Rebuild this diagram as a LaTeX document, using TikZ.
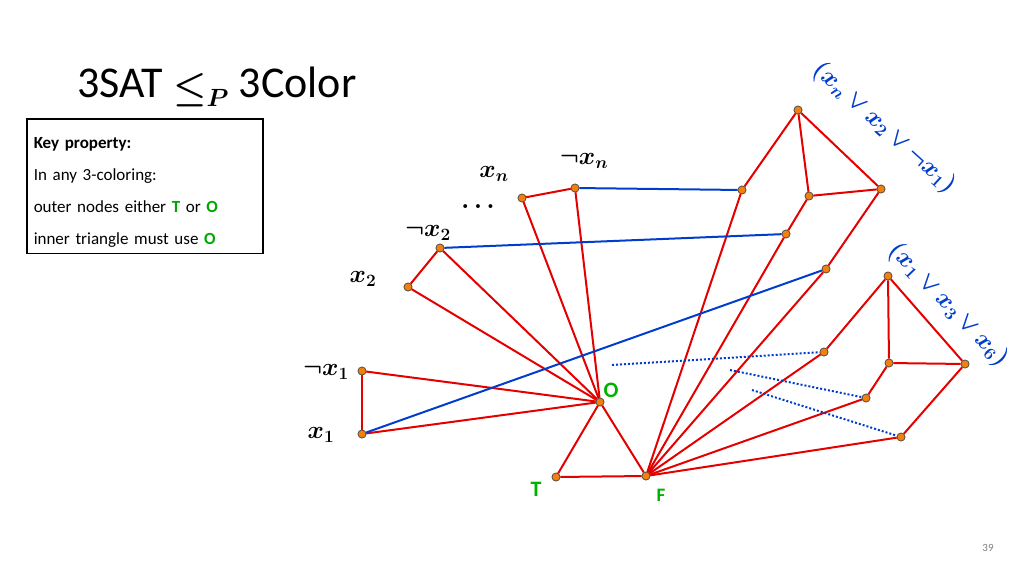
\documentclass[tikz,border=0pt]{standalone}
\usepackage{amsmath,bm,graphicx}
\usepackage{fontspec}
\setmainfont{Carlito}
\begin{document}
\begin{tikzpicture}[x=1pt,y=-1pt,
  v/.style={circle,draw=black!70,fill=orange!80!brown,inner sep=0pt,minimum size=8pt,line width=0.6pt},
  re/.style={red!90!black,line width=2pt},
  be/.style={blue!70!cyan!80!black,line width=2pt},
  de/.style={blue!70!cyan!80!black,line width=2pt,dotted},
  ml/.style={font=\fontsize{24}{24}\selectfont},
  gl/.style={text=green!70!black,font=\fontsize{22}{22}\selectfont\bfseries},
  cl/.style={text=blue!70!cyan!80!black,font=\fontsize{23}{23}\selectfont}]
\useasboundingbox (0,0) rectangle (1024,576);
\node[anchor=west,font=\fontsize{44}{44}\selectfont] (title) at (74,87) {3SAT \raisebox{-2pt}{\scalebox{1.5}{$\bm{\le}$}}$\bm{_P}$ 3Color};
\node[draw,line width=1.5pt,anchor=north west,minimum width=236pt,minimum height=130pt,align=left,inner sep=6pt,text width=222pt,font=\fontsize{17}{32}\selectfont] (key) at (26,118)
 {\rule{0pt}{24pt}\textbf{Key property:}\\In any 3-coloring:\\outer nodes either \textcolor{green!65!black}{\textbf{T}} or \textcolor{green!65!black}{\textbf{O}}\\inner triangle must use \textcolor{green!65!black}{\textbf{O}}};
\node[font=\fontsize{11}{11}\selectfont,text=gray] (pg) at (988,548) {39};
% vertices
\node[v] (xn) at (522,198) {}; \node[v] (nxn) at (575,188) {};
\node[v] (nx2) at (440,248) {}; \node[v] (x2) at (408,287) {};
\node[v] (nx1) at (362,371) {}; \node[v] (x1) at (362,434) {};
\node[v] (O) at (600,402) {}; \node[v] (T) at (556,477) {}; \node[v] (F) at (646,476) {};
\node[v] (a1) at (742,190) {}; \node[v] (b1) at (786,234) {}; \node[v] (c1) at (826,269) {};
\node[v] (t1) at (798,110) {}; \node[v] (i1) at (809,196) {}; \node[v] (r1) at (881,189) {};
\node[v] (a2) at (824,352) {}; \node[v] (b2) at (866,398) {}; \node[v] (c2) at (901,437) {};
\node[v] (t2) at (888,276) {}; \node[v] (i2) at (889,363) {}; \node[v] (r2) at (965,364) {};
\coordinate (d1) at (612,365); \coordinate (d2) at (730,370); \coordinate (d3) at (752,390);
\foreach \p/\q in {xn/nxn,nx2/x2,nx1/x1,xn/O,nxn/O,nx2/O,x2/O,nx1/O,x1/O,T/O,O/F,T/F,
  a1/t1,t1/i1,t1/r1,i1/r1,i1/b1,r1/c1,a1/F,b1/F,c1/F,
  a2/t2,t2/i2,t2/r2,i2/r2,i2/b2,r2/c2,a2/F,b2/F,c2/F}
  \draw[re] (\p) -- (\q);
\draw[be] (nxn) -- (a1); \draw[be] (nx2) -- (b1); \draw[be] (x1) -- (c1);
\draw[de] (d1) -- (a2); \draw[de] (d2) -- (b2); \draw[de] (d3) -- (c2);
\foreach \n in {xn,nxn,nx2,x2,nx1,x1,O,T,F,a1,b1,c1,t1,i1,r1,a2,b2,c2,t2,i2,r2}
  \node[v] at (\n) {};
% labels
\node[ml] (lxn) at (494,174) {$\bm{x_n}$};
\node[ml] (lnxn) at (584,161) {$\bm{\neg x_n}$};
\node[ml] (ldots) at (478,207) {$\bm{\ldots}$};
\node[ml] (lnx2) at (428,233) {$\bm{\neg x_2}$};
\node[ml] (lx2) at (363,279) {$\bm{x_2}$};
\node[ml] (lnx1) at (326,372) {$\bm{\neg x_1}$};
\node[ml] (lx1) at (321,435) {$\bm{x_1}$};
\node[gl] (lO) at (611,390) {O};
\node[gl] (lT) at (536,489) {T};
\node[gl,font=\fontsize{19}{19}\selectfont\bfseries] (lF) at (661,495) {F};
\node[cl,rotate=-42] (cl1) at (884,128) {$\bm{(x_n \vee x_2 \vee \neg x_1)}$};
\node[cl,rotate=-46] (cl2) at (948,305) {$\bm{(x_1 \vee x_3 \vee x_6)}$};
\end{tikzpicture}
\end{document}
